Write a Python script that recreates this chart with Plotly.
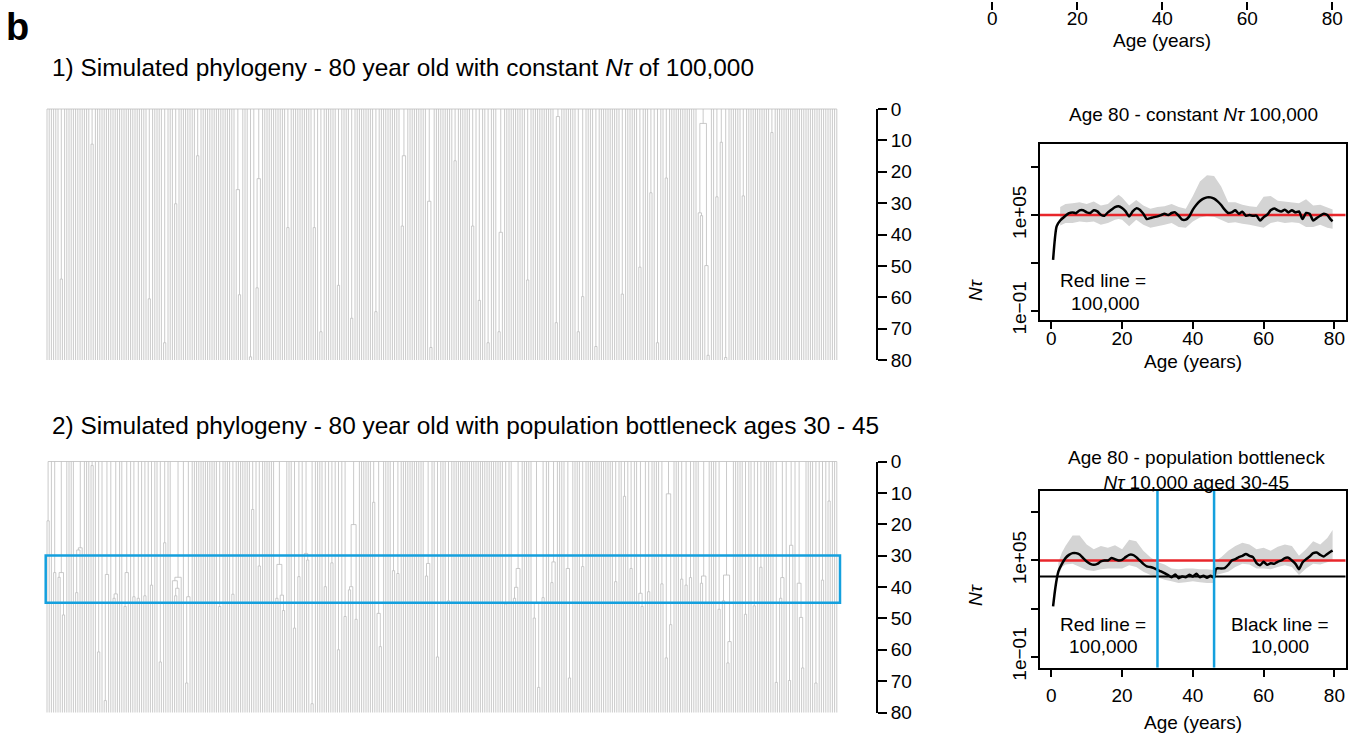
import plotly.graph_objects as go

W, H = 1365, 735
FONT = "Liberation Sans, Arial, Helvetica, sans-serif"

# ---------------- data ----------------
N_TIPS = 360
SAMPLE_AGE = 80
TREE_TICKS = [0, 10, 20, 30, 40, 50, 60, 70, 80]

# late coalescence events: gap between tip i and i+1 -> coalescence age (years)
tree1_gap = [6, 20, 46, 53, 58, 68, 86, 87, 92, 95, 96, 109, 121, 124, 132, 138,
             149, 161, 162, 173, 174, 185, 193, 196, 200, 205, 206, 218, 231, 232,
             241, 243, 249, 261, 269, 274, 277, 281, 296, 297, 298, 299, 300, 304,
             306, 308, 316, 329]
tree1_age = [54.2, 11.2, 60.5, 74.5, 30.2, 14.9, 25.7, 59.2, 79, 57, 22.2, 37.8,
             37.8, 71, 56.2, 66.7, 64.6, 37.3, 14.9, 29.4, 76, 16.5, 37.3, 61, 74.5,
             71, 39.3, 54.5, 68.1, 2.4, 71, 59.8, 75.7, 59, 50.4, 26.7, 74.5, 22,
             33.1, 34, 4.6, 49.9, 78.5, 28, 10.6, 79.2, 27.7, 7.5]

tree2_gap = [0, 3, 5, 6, 7, 13, 14, 15, 20, 23, 26, 27, 30, 31, 35, 36, 39, 41, 44,
             47, 51, 53, 57, 58, 59, 60, 63, 64, 78, 84, 93, 96, 104, 105, 106, 107,
             112, 114, 117, 118, 120, 126, 129, 132, 135, 137, 138, 139, 140, 148,
             150, 151, 157, 159, 172, 173, 177, 182, 208, 212, 213, 214, 221, 222,
             223, 225, 229, 230, 236, 237, 243, 258, 262, 265, 269, 270, 273, 279,
             281, 282, 283, 288, 290, 292, 297, 298, 299, 305, 307, 308, 309, 310,
             317, 321, 324, 331, 333, 334, 337, 338, 341, 342, 343, 349, 352, 355]
tree2_age = [18.9, 35.4, 36.9, 35.4, 48.9, 41.8, 28.2, 27.5, 1.3, 60.7, 76.2, 36,
             43.6, 42.2, 46.2, 35.4, 43.1, 43.6, 42.8, 39.4, 63.9, 25.9, 38, 42.8,
             40.4, 36.9, 70.6, 43.1, 46.2, 42.3, 15.3, 33.3, 43.6, 32.8, 42.6, 47.5,
             53.1, 36.7, 29.3, 31.4, 77.2, 39.9, 32.3, 60, 49.4, 40.9, 39.9, 20.1,
             50.3, 13, 48.4, 59, 34.8, 35.7, 36.5, 32.5, 62.3, 44.4, 45.4, 43.6, 40.1,
             34.1, 49.9, 45, 72, 43.4, 38.6, 32, 34.1, 69, 33.5, 38.3, 11.1, 34.1, 42,
             46.2, 41.5, 39, 62.6, 10.3, 52, 37.5, 39.4, 37, 38.8, 36.5, 45.2, 47.1,
             44.4, 36.2, 64.2, 57.4, 48.7, 46, 33.7, 70.4, 43.6, 37, 69.8, 26.7, 38.8,
             49.7, 65.8, 70.6, 37.8, 12.6]

BOTTLENECK = [30, 45]

# N-tau estimates (log10 values)
p1_age = [0.5, 1.5, 2.5] + list(range(4, 80)) + [79.5]
p1_med = [2.19, 4.29, 4.66, 4.96, 5.13, 5.17, 5.12, 5.3, 5.3, 5.17, 5.13, 5.3, 5.23,
          5.02, 4.96, 5.17, 5.34, 5.5, 5.55, 5.44, 5.23, 4.92, 5.23, 5.42, 5.34,
          5.08, 4.75, 4.81, 4.87, 4.92, 5.0, 5.08, 5.0, 5.13, 5.17, 4.96, 4.71,
          4.71, 4.92, 5.34, 5.65, 5.88, 6.03, 6.11, 6.11, 6.03, 5.86, 5.63, 5.34,
          5.13, 5.17, 5.3, 5.08, 5.21, 4.96, 5.0, 4.96, 4.96, 4.66, 4.87, 5.02, 5.3,
          5.42, 5.3, 5.23, 5.34, 5.17, 5.3, 5.17, 5.23, 4.75, 5.13, 5.08, 4.66, 4.81,
          4.96, 5.08, 5.0, 4.71, 4.62]
p1_band_age = [2.5, 4, 6, 8, 10, 12, 14, 16, 18, 19, 20, 22, 24, 26, 28, 30, 32, 34,
               36, 38, 40, 42, 44, 46, 48, 50, 52, 54, 56, 58, 60, 62, 64, 66, 68, 70,
               72, 74, 76, 78, 79.5]
p1_band_hi = [5.5, 5.7, 5.75, 5.8, 5.7, 5.85, 5.6, 5.7, 6.1, 6.28, 6.1, 5.6, 5.95,
              5.6, 5.4, 5.5, 5.55, 5.7, 5.5, 5.4, 6.2, 7.1, 7.5, 7.45, 6.8, 5.8, 5.8,
              5.65, 5.55, 5.5, 6.15, 6.2, 5.9, 5.85, 5.8, 5.75, 6.0, 5.6, 5.65, 5.5,
              5.35]
p1_band_lo = [4.35, 4.5, 4.5, 4.6, 4.55, 4.6, 4.4, 4.5, 4.7, 4.75, 4.7, 4.3, 4.7, 4.4,
              4.2, 4.3, 4.4, 4.5, 4.25, 4.2, 4.6, 4.85, 4.95, 4.9, 4.7, 4.5, 4.55,
              4.45, 4.4, 4.3, 4.2, 4.5, 4.6, 4.5, 4.55, 4.5, 4.25, 4.25, 4.4, 4.2, 4.15]

p2_age = [0.5, 1, 1.5, 2] + list(range(3, 47)) + [46.5] + list(range(47, 80)) + [79.5]
p2_med = [2.14, 3.07, 3.8, 4.32, 4.79, 5.15, 5.35, 5.46, 5.46, 5.37, 5.15, 4.94,
          4.79, 4.73, 4.79, 4.94, 5.0, 5.0, 5.15, 5.08, 5.0, 5.04, 5.21, 5.35, 5.35,
          5.21, 5.0, 4.79, 4.63, 4.59, 4.52, 4.42, 4.32, 4.21, 4.09, 3.96, 4.13, 3.9,
          4.0, 3.96, 4.11, 4.0, 4.17, 3.96, 4.05, 3.92, 4.05, 3.92, 4.46, 4.52, 4.5,
          4.52, 4.73, 5.0, 5.08, 5.21, 5.29, 5.41, 5.29, 5.21, 4.83, 4.71, 4.92, 4.73,
          4.83, 4.79, 4.92, 5.0, 5.15, 5.17, 5.0, 4.79, 4.46, 4.88, 5.08, 5.25, 5.46,
          5.5, 5.35, 5.25, 5.41, 5.56, 5.62]
p2_band_age = [2, 3, 4, 6, 8, 10, 12, 14, 16, 18, 20, 22, 24, 26, 28, 30, 32, 34, 36,
               38, 40, 42, 44, 46, 46.5, 48, 50, 52, 54, 56, 58, 60, 62, 64, 66, 68,
               70, 72, 74, 76, 78, 79.5]
p2_band_hi = [4.9, 5.5, 5.9, 6.55, 6.55, 6.0, 5.7, 5.9, 5.8, 5.95, 5.7, 6.3, 6.2, 5.6,
              5.2, 4.9, 4.75, 4.5, 4.45, 4.5, 4.5, 4.45, 4.45, 4.4, 5.0, 5.2, 5.6, 5.9,
              6.1, 6.0, 5.7, 5.8, 5.6, 5.85, 6.0, 5.9, 5.3, 5.7, 6.2, 6.0, 6.4, 6.9]
p2_band_lo = [4.0, 4.6, 4.75, 4.8, 4.6, 4.4, 4.35, 4.45, 4.5, 4.5, 4.5, 4.7, 4.6, 4.3,
              4.1, 3.95, 3.8, 3.7, 3.6, 3.65, 3.7, 3.65, 3.6, 3.6, 4.1, 4.2, 4.3, 4.6,
              4.8, 4.75, 4.5, 4.5, 4.45, 4.6, 4.7, 4.6, 4.1, 4.5, 4.8, 4.75, 4.9, 5.0]

RED_LINE = 1e5
BLACK_LINE = 1e4
P2_BLUE = [30, 46]
AGE_TICKS = [0, 20, 40, 60, 80]
NT_TICKS = [1e-1, 1e2, 1e5, 1e8]
NT_TICKTEXT = ["1e\u221201", "", "1e+05", ""]

# ---------------- styles ----------------
TREE_COL = "#bdbdbd"
BLUE = "#14a0de"
RED = "#e8262b"
BAND = "#d4d4d4"

# ---------------- helpers ----------------
def dx(p0, p1):
    return [p0 / W, p1 / W]


def dy(top, bot):
    return [1 - bot / H, 1 - top / H]


def build_tree(n, gaps, ages):
    assert len(gaps) == len(ages)
    h = [0.0] * (n - 1)
    for g, a in zip(gaps, ages):
        h[g] = a
    xs, ys = [], []

    def seg(x0, y0, x1, y1):
        xs.extend([x0, x1, None])
        ys.extend([y0, y1, None])

    def rec(lo, hi, top):
        if lo == hi:
            seg(lo, top, lo, SAMPLE_AGE)
            return lo
        m = min(h[lo:hi])
        cuts = [i for i in range(lo, hi) if h[i] == m]
        starts = [lo] + [c + 1 for c in cuts]
        ends = cuts + [hi]
        pos = [rec(s, e, m) for s, e in zip(starts, ends)]
        seg(pos[0], m, pos[-1], m)
        p = (pos[0] + pos[-1]) / 2
        if top < m:
            seg(p, top, p, m)
        return p

    rec(0, n - 1, 0.0)
    return xs, ys


fig = go.Figure()

# ---------------- trees ----------------
TIP0, STEP = 47.0, 2.2
tree_x_dom = dx(TIP0 - STEP, TIP0 + STEP * N_TIPS)
tree_rows = [(109.0, 360.0), (461.5, 712.5)]
PAD = 1.5

for k, (gaps, ages) in enumerate([(tree1_gap, tree1_age), (tree2_gap, tree2_age)]):
    xs, ys = build_tree(N_TIPS, gaps, ages)
    xa = "x" if k == 0 else "x2"
    ya = "y" if k == 0 else "y2"
    fig.add_trace(go.Scatter(x=xs, y=ys, mode="lines", xaxis=xa, yaxis=ya,
                             line=dict(color=TREE_COL, width=0.8),
                             hoverinfo="skip", showlegend=False))

axes = {}
for k, (top, bot) in enumerate(tree_rows):
    s = (bot - top) / SAMPLE_AGE
    sx = "" if k == 0 else "2"
    axes["xaxis" + sx] = dict(domain=tree_x_dom, range=[-1, N_TIPS], visible=False,
                              anchor="y" + sx, automargin=False)
    axes["yaxis" + sx] = dict(domain=dy(top - PAD * s, bot + PAD * s),
                              range=[SAMPLE_AGE + PAD, -PAD], visible=False,
                              anchor="x" + sx, automargin=False)
    # bracket axis
    bx = str(3 + k)
    fig.add_trace(go.Scatter(x=[None], y=[None], xaxis="x" + bx, yaxis="y" + bx,
                             showlegend=False, hoverinfo="skip"))
    axes["xaxis" + bx] = dict(domain=dx(860, 876), range=[0, 1], visible=False,
                              anchor="y" + bx, automargin=False)
    axes["yaxis" + bx] = dict(domain=dy(top, bot), range=[SAMPLE_AGE, 0],
                              anchor="x" + bx, side="right", showline=True,
                              linecolor="black", linewidth=2, ticks="outside",
                              ticklen=9, tickwidth=2, tickcolor="black",
                              tickvals=TREE_TICKS, showgrid=False, zeroline=False,
                              automargin=False,
                              tickfont=dict(size=19, color="black", family=FONT))

# ---------------- N-tau panels ----------------
X_RANGE = [-3.2, 83.2]
panels = [
    dict(ax="5", age=p1_age, med=p1_med, bage=p1_band_age, bhi=p1_band_hi,
         blo=p1_band_lo, top=144.3, bot=320.0, yr=[-1.58, 9.44], standoff=-7),
    dict(ax="6", age=p2_age, med=p2_med, bage=p2_band_age, bhi=p2_band_hi,
         blo=p2_band_lo, top=491.0, bot=667.7, yr=[-1.68, 9.33], standoff=2),
]
for i, p in enumerate(panels):
    xa, ya = "x" + p["ax"], "y" + p["ax"]
    fig.add_trace(go.Scatter(
        x=p["bage"] + p["bage"][::-1],
        y=[10 ** v for v in p["bhi"]] + [10 ** v for v in p["blo"][::-1]],
        fill="toself", fillcolor=BAND, line=dict(width=0), mode="lines",
        xaxis=xa, yaxis=ya, hoverinfo="skip", showlegend=False))
    fig.add_trace(go.Scatter(x=X_RANGE, y=[RED_LINE, RED_LINE], mode="lines",
                             line=dict(color=RED, width=2.5), xaxis=xa, yaxis=ya,
                             hoverinfo="skip", showlegend=False))
    if i == 1:
        fig.add_trace(go.Scatter(x=X_RANGE, y=[BLACK_LINE, BLACK_LINE], mode="lines",
                                 line=dict(color="black", width=2), xaxis=xa, yaxis=ya,
                                 hoverinfo="skip", showlegend=False))
    fig.add_trace(go.Scatter(x=p["age"], y=[10 ** v for v in p["med"]], mode="lines",
                             line=dict(color="black", width=2.5, shape="spline",
                                       smoothing=0.6),
                             xaxis=xa, yaxis=ya, hoverinfo="skip", showlegend=False))
    if i == 1:
        for b in P2_BLUE:
            fig.add_trace(go.Scatter(x=[b, b], y=[10 ** p["yr"][0], 10 ** p["yr"][1]],
                                     mode="lines", line=dict(color=BLUE, width=2.5),
                                     xaxis=xa, yaxis=ya, hoverinfo="skip",
                                     showlegend=False))
    axes["xaxis" + p["ax"]] = dict(
        domain=dx(1040, 1345.7), range=X_RANGE, anchor=ya, tickvals=AGE_TICKS,
        ticks="outside", ticklen=7, tickwidth=1.5, tickcolor="black", showline=True,
        mirror=True, linecolor="black", linewidth=2, showgrid=False, zeroline=False,
        ticklabelstandoff=p["standoff"], automargin=False,
        tickfont=dict(size=19, color="black", family=FONT))
    axes["yaxis" + p["ax"]] = dict(
        domain=dy(p["top"], p["bot"]), type="log", range=p["yr"], anchor=xa,
        tickvals=NT_TICKS, ticktext=NT_TICKTEXT, tickangle=-90, ticks="outside",
        ticklen=7, tickwidth=1.5, tickcolor="black", showline=True, mirror=True,
        linecolor="black", linewidth=2, showgrid=False, zeroline=False,
        automargin=False, ticklabelstandoff=-3,
        tickfont=dict(size=19, color="black", family=FONT))

# top partial axis (from panel above)
fig.add_trace(go.Scatter(x=[None], y=[None], xaxis="x7", yaxis="y7",
                         showlegend=False, hoverinfo="skip"))
axes["xaxis7"] = dict(domain=dx(978.7, 1345.9), range=X_RANGE, anchor="y7",
                      tickvals=AGE_TICKS, ticks="outside", ticklen=8, tickwidth=1.5,
                      tickcolor="black", showline=False, showgrid=False,
                      zeroline=False, automargin=False, ticklabelstandoff=-7,
                      tickfont=dict(size=19, color="black", family=FONT))
axes["yaxis7"] = dict(domain=[1 - 0.5 / H, 1], range=[0, 1], visible=False,
                      anchor="x7", automargin=False)

# blue bottleneck box on tree 2
shapes = [dict(type="rect", xref="paper", yref="y2", x0=45.7 / W, x1=840 / W,
               y0=BOTTLENECK[0], y1=BOTTLENECK[1], line=dict(color=BLUE, width=2.5),
               fillcolor="rgba(0,0,0,0)", layer="above")]


def ann(text, x, y, size=19, xanchor="center", angle=0, bold=False):
    return dict(text=("<b>%s</b>" % text) if bold else text, x=x / W, y=1 - y / H,
                xref="paper", yref="paper", xanchor=xanchor, yanchor="middle",
                showarrow=False, textangle=angle,
                font=dict(size=size, color="black", family=FONT))


annotations = [
    ann("b", 4, 27, size=38, xanchor="left", bold=True),
    ann("1) Simulated phylogeny - 80 year old with constant <i>N\u03c4</i> of 100,000",
        50, 67, size=24.4, xanchor="left"),
    ann("2) Simulated phylogeny - 80 year old with population bottleneck ages 30 - 45",
        50, 425, size=24.4, xanchor="left"),
    ann("Age (years)", 1162.3, 40.7),
    ann("Age 80 - constant <i>N\u03c4</i> 100,000", 1193, 115),
    ann("Age (years)", 1193, 361.7),
    ann("<i>N\u03c4</i>", 975, 290, angle=-90),
    ann("Red line =", 1103, 280.7),
    ann("100,000", 1105, 303.3),
    ann("Age 80 - population bottleneck<br><i>N\u03c4</i> 10,000 aged 30-45", 1196, 470),
    ann("Age (years)", 1193, 722.7),
    ann("<i>N\u03c4</i>", 975, 595, angle=-90),
    ann("Red line =", 1103, 624),
    ann("100,000", 1103, 646.7),
    ann("Black line =", 1280, 624),
    ann("10,000", 1280, 646.7),
]

fig.update_layout(width=W, height=H,
                  margin=dict(l=0, r=0, t=0, b=0, pad=0, autoexpand=False),
                  paper_bgcolor="white", plot_bgcolor="white", showlegend=False,
                  font=dict(family=FONT, color="black", size=19),
                  shapes=shapes, annotations=annotations, **axes)

fig.write_html("out.html", config={"displayModeBar": False})
